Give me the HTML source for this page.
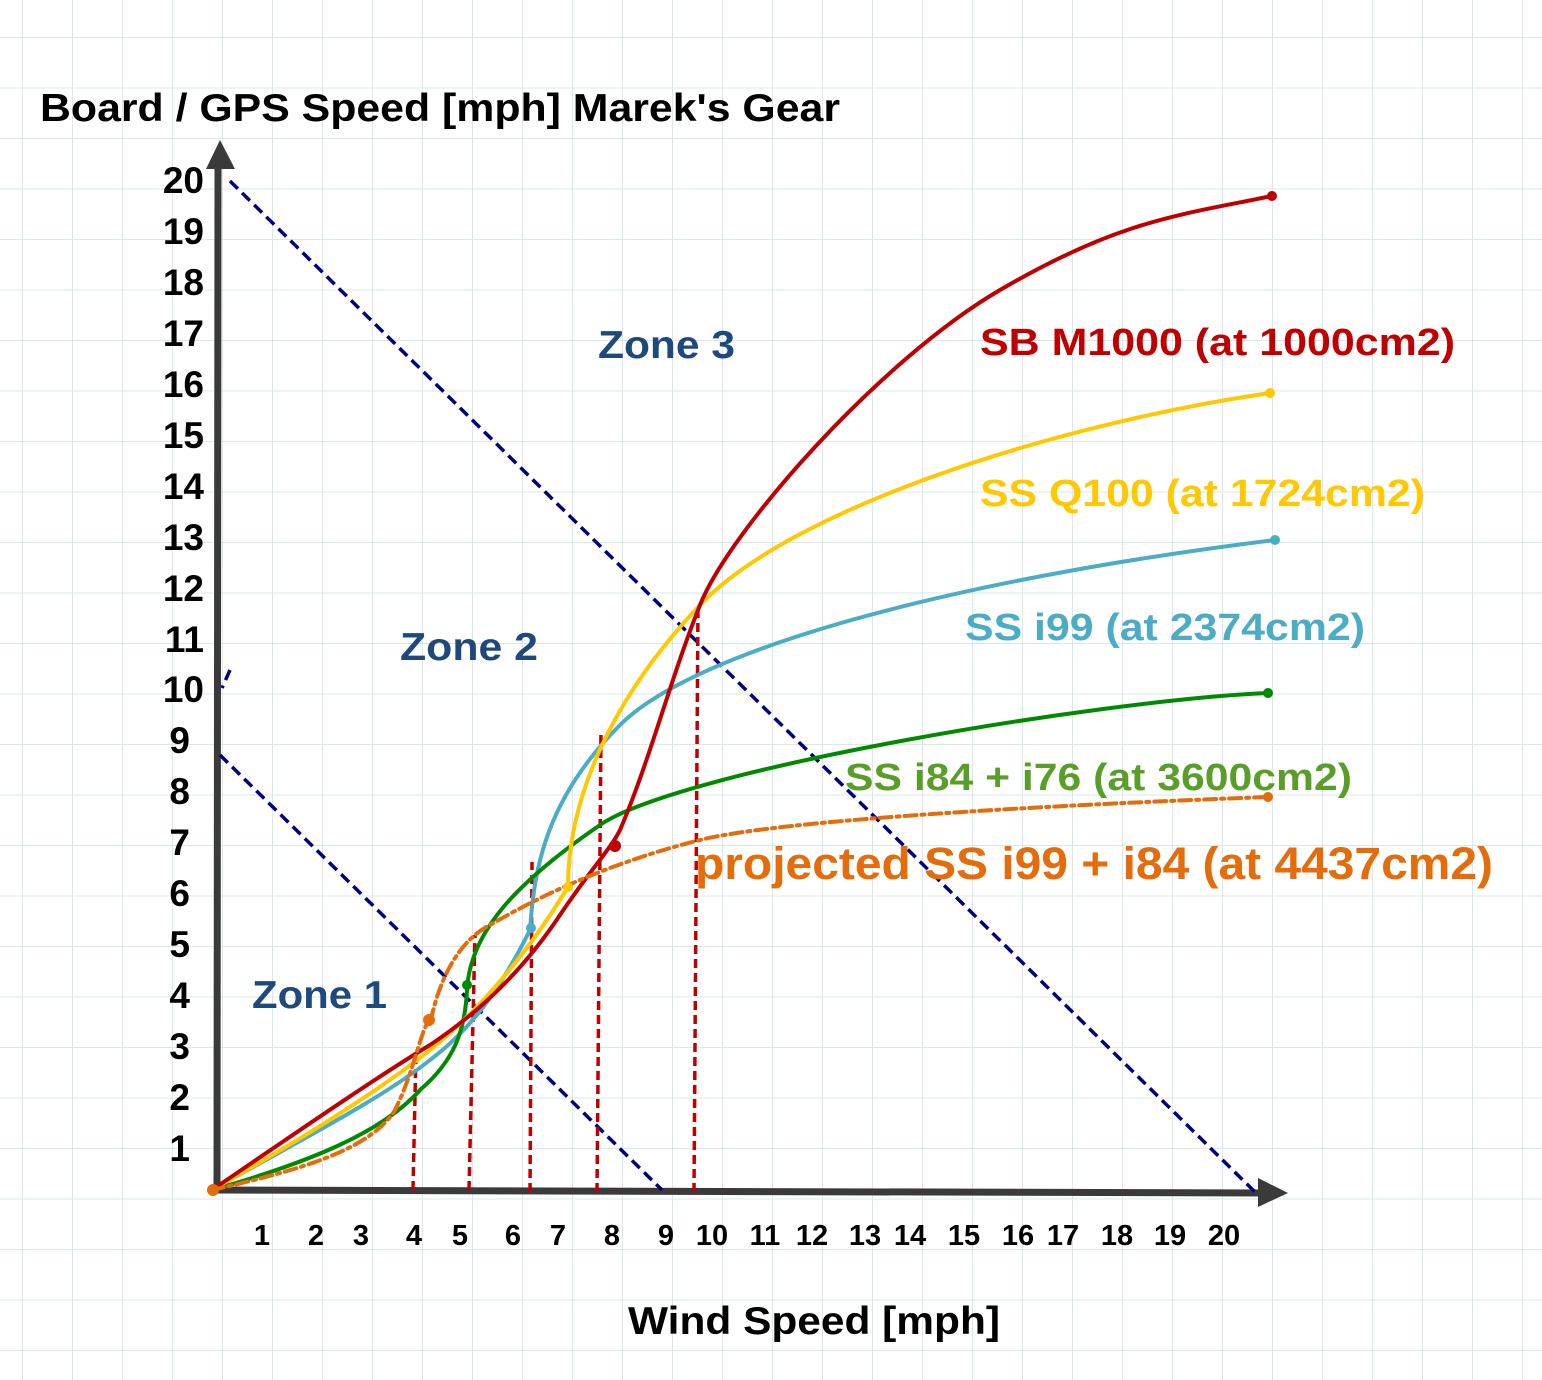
<!DOCTYPE html>
<html><head><meta charset="utf-8"><style>
html,body{margin:0;padding:0;background:#fff}
svg{display:block}
text{font-family:"Liberation Sans",Arial,sans-serif;font-weight:bold}
</style></head><body>
<svg width="1542" height="1380" viewBox="0 0 1542 1380" xmlns="http://www.w3.org/2000/svg">
<defs>
<pattern id="g" x="22" y="37" width="50" height="50.5" patternUnits="userSpaceOnUse">
<path d="M0 0H50M0 0V50.5" stroke="#dbe8ea" stroke-width="2" fill="none"/>
</pattern>
</defs>
<rect width="1542" height="1380" fill="#fff"/>
<rect width="1542" height="1380" fill="url(#g)"/>

<text x="40" y="121" font-size="39" fill="#000" textLength="800" lengthAdjust="spacingAndGlyphs">Board / GPS Speed [mph] Marek's Gear</text>
<text x="628" y="1334" font-size="39" fill="#000" textLength="372" lengthAdjust="spacingAndGlyphs">Wind Speed [mph]</text>

<!-- axes -->
<line x1="217" y1="1192" x2="218" y2="165" stroke="#3a3a3a" stroke-width="7"/>
<polygon points="206,169 220,140 235,169" fill="#3a3a3a"/>
<line x1="210" y1="1190" x2="1262" y2="1193" stroke="#3a3a3a" stroke-width="7"/>
<polygon points="1258,1178 1288,1193 1258,1207" fill="#3a3a3a"/>

<g font-size="37" fill="#000" text-anchor="end">
<text x="204" y="193">20</text><text x="204" y="244">19</text><text x="204" y="295">18</text>
<text x="204" y="346">17</text><text x="204" y="397">16</text><text x="204" y="448">15</text>
<text x="204" y="499">14</text><text x="204" y="550">13</text><text x="204" y="601">12</text>
<text x="204" y="652">11</text><text x="204" y="702">10</text><text x="190" y="753">9</text>
<text x="190" y="804">8</text><text x="190" y="855">7</text><text x="190" y="906">6</text>
<text x="190" y="957">5</text><text x="190" y="1008">4</text><text x="190" y="1059">3</text>
<text x="190" y="1110">2</text><text x="190" y="1161">1</text>
</g>
<g font-size="29" fill="#000" text-anchor="middle">
<text x="262" y="1245">1</text><text x="316" y="1245">2</text><text x="361" y="1245">3</text>
<text x="414" y="1245">4</text><text x="460" y="1245">5</text><text x="513" y="1245">6</text>
<text x="558" y="1245">7</text><text x="612" y="1245">8</text><text x="666" y="1245">9</text>
<text x="712" y="1245">10</text><text x="765" y="1245">11</text><text x="812" y="1245">12</text>
<text x="865" y="1245">13</text><text x="910" y="1245">14</text><text x="964" y="1245">15</text>
<text x="1018" y="1245">16</text><text x="1063" y="1245">17</text><text x="1117" y="1245">18</text>
<text x="1170" y="1245">19</text><text x="1224" y="1245">20</text>
</g>

<!-- zone lines -->
<g stroke="#000080" stroke-width="3.5" stroke-dasharray="11,6" fill="none">
<line x1="230" y1="181" x2="1255" y2="1192"/>
<line x1="220" y1="755" x2="662" y2="1190"/>
<line x1="230" y1="670" x2="222" y2="688"/>
</g>

<!-- red vertical dashed -->
<g stroke="#c00000" stroke-width="3.5" stroke-dasharray="9,5" fill="none">
<line x1="413" y1="1190" x2="416" y2="1050"/>
<line x1="469" y1="1190" x2="475" y2="935"/>
<line x1="530" y1="1192" x2="532" y2="862"/>
<line x1="597" y1="1192" x2="601" y2="730"/>
<line x1="694" y1="1192" x2="698" y2="605"/>
</g>

<!-- curves -->
<g fill="none" stroke-width="4" stroke-linecap="round" stroke-linejoin="round">
<path stroke="#4bacc6" d="M212 1190 C300 1140 380 1100 430 1060 C470 1030 500 990 530 930 C534 870 545 800 620 725 S 950 580 1275 540"/>
<path stroke="#008a00" d="M212 1190 C300 1165 380 1135 420 1090 C455 1060 465 1030 467 990 C470 930 520 880 600 825 S 1100 700 1268 693"/>
<path stroke="#ffc800" d="M212 1190 C300 1140 380 1090 430 1050 C480 1010 530 950 568 887 C568 800 610 700 700 605 S 1050 425 1270 393"/>
<path stroke="#c00000" d="M212 1190 C300 1130 380 1075 430 1045 C490 1005 530 960 560 915 C590 870 610 850 620 830 C650 760 670 680 700 605 S 880 360 1000 290 S 1180 215 1272 196"/>
<path stroke="#e46c0a" stroke-dasharray="12,5,3,5" d="M212 1190 C300 1170 370 1150 395 1110 C415 1070 420 1030 432 1015 C445 960 470 935 490 925 C550 890 620 860 700 840 S 1050 805 1268 797"/>
</g>
<g>
<circle cx="1272" cy="196" r="5" fill="#c00000"/><circle cx="615" cy="846" r="6" fill="#c00000"/>
<circle cx="1270" cy="393" r="5" fill="#ffc800"/><circle cx="568" cy="887" r="5" fill="#ffc800"/>
<circle cx="1275" cy="540" r="5" fill="#4bacc6"/><circle cx="531" cy="928" r="5" fill="#4bacc6"/>
<circle cx="1268" cy="693" r="5" fill="#008a00"/><circle cx="467" cy="985" r="5" fill="#008a00"/>
<circle cx="1268" cy="797" r="5" fill="#e46c0a"/><circle cx="429" cy="1020" r="6" fill="#e46c0a"/>
<circle cx="213" cy="1190" r="6" fill="#e46c0a"/>
</g>

<!-- labels -->
<text x="980" y="355" font-size="38" fill="#c00000" textLength="475" lengthAdjust="spacingAndGlyphs">SB M1000 (at 1000cm2)</text>
<text x="980" y="506" font-size="38" fill="#ffc800" textLength="445" lengthAdjust="spacingAndGlyphs">SS Q100 (at 1724cm2)</text>
<text x="965" y="640" font-size="38" fill="#4bacc6" textLength="400" lengthAdjust="spacingAndGlyphs">SS i99 (at 2374cm2)</text>
<text x="845" y="790" font-size="38" fill="#5a9e2a" textLength="507" lengthAdjust="spacingAndGlyphs">SS i84 + i76 (at 3600cm2)</text>
<text x="695" y="879" font-size="45" fill="#e46c0a" textLength="798" lengthAdjust="spacingAndGlyphs">projected SS i99 + i84 (at 4437cm2)</text>
<g font-size="39" fill="#1f497d">
<text x="598" y="358" textLength="137" lengthAdjust="spacingAndGlyphs">Zone 3</text>
<text x="400" y="660" textLength="138" lengthAdjust="spacingAndGlyphs">Zone 2</text>
<text x="252" y="1008" textLength="135" lengthAdjust="spacingAndGlyphs">Zone 1</text>
</g>
</svg>
</body></html>
